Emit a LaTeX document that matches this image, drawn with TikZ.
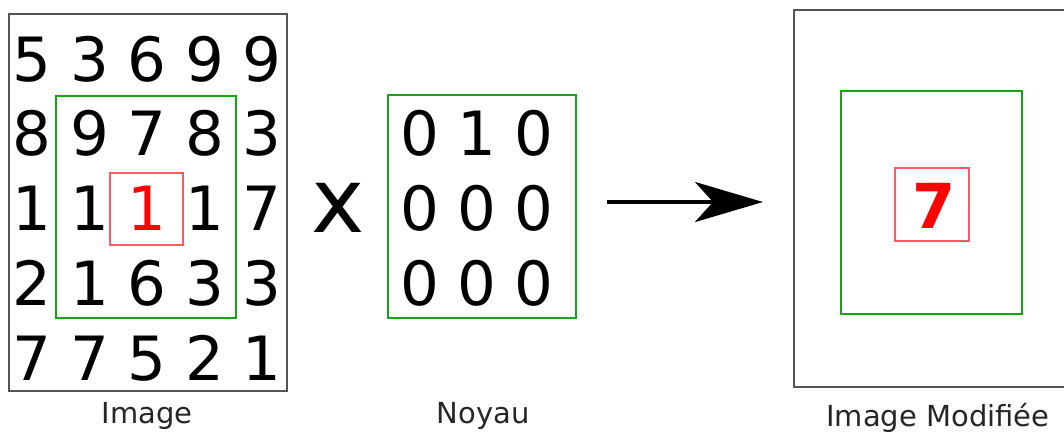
\documentclass[tikz,border=0pt]{standalone}
\usepackage{fontspec}
\setmainfont{DejaVu Sans}
\usetikzlibrary{arrows.meta}
\definecolor{boxgray}{RGB}{85,85,85}
\definecolor{kgreen}{RGB}{20,165,20}
\definecolor{kred}{RGB}{255,0,0}
\definecolor{lred}{RGB}{255,90,100}
\tikzset{
  frame/.style={draw=boxgray, line width=2.4pt},
  gbox/.style={draw=kgreen, line width=2.8pt},
  rbox/.style={draw=lred, line width=1.2pt},
  dig/.style={inner sep=0pt, anchor=base, font=\fontsize{61}{61}\selectfont},
  lab/.style={inner sep=0pt, anchor=base, font=\fontsize{29}{29}\selectfont, text=black!85},
  arr/.style={line width=4pt, -{Stealth[length=68pt,width=40pt,inset=18pt]}}
}
\begin{document}
\begin{tikzpicture}[x=1pt,y=-1pt]
\useasboundingbox (0,0) rectangle (1064,432);
\clip (0,0) rectangle (1064,432);
% left image
\draw[frame] (9,14) rectangle (287,391);
\draw[gbox] (56,96) rectangle (236,318);
\draw[rbox] (110,173) rectangle (183,245);
\node[dig] (i11) at (32,81) {5};
\node[dig] (i12) at (89.5,81) {3};
\node[dig] (i13) at (147,81) {6};
\node[dig] (i14) at (204.5,81) {9};
\node[dig] (i15) at (262,81) {9};
\node[dig] (i21) at (32,155) {8};
\node[dig] (i22) at (89.5,155) {9};
\node[dig] (i23) at (147,155) {7};
\node[dig] (i24) at (204.5,155) {8};
\node[dig] (i25) at (262,155) {3};
\node[dig] (i31) at (32,230) {1};
\node[dig] (i32) at (89.5,230) {1};
\node[dig, text=kred] (i33) at (147,230) {1};
\node[dig] (i34) at (204.5,230) {1};
\node[dig] (i35) at (262,230) {7};
\node[dig] (i41) at (32,305) {2};
\node[dig] (i42) at (89.5,305) {1};
\node[dig] (i43) at (147,305) {6};
\node[dig] (i44) at (204.5,305) {3};
\node[dig] (i45) at (262,305) {3};
\node[dig] (i51) at (32,380) {7};
\node[dig] (i52) at (89.5,380) {7};
\node[dig] (i53) at (147,380) {5};
\node[dig] (i54) at (204.5,380) {2};
\node[dig] (i55) at (262,380) {1};
\node[lab] (limg) at (147,423) {Image};
% times sign
\node[inner sep=0pt, anchor=base, font=\fontsize{90}{90}\selectfont] (times) at (338,232) {x};
% kernel
\draw[gbox] (388,95) rectangle (576,318);
\node[dig] (k11) at (420,155) {0};
\node[dig] (k12) at (477,155) {1};
\node[dig] (k13) at (534,155) {0};
\node[dig] (k21) at (420,230) {0};
\node[dig] (k22) at (477,230) {0};
\node[dig] (k23) at (534,230) {0};
\node[dig] (k31) at (420,305) {0};
\node[dig] (k32) at (477,305) {0};
\node[dig] (k33) at (534,305) {0};
\node[lab] (lnoy) at (483,423) {Noyau};
% arrow
\coordinate (a0) at (607,202);
\coordinate (a1) at (763,202);
\draw[arr] (a0) -- (a1);
% result
\draw[frame] (794,10) rectangle (1080,387);
\draw[gbox] (841,91) rectangle (1022,314);
\draw[rbox] (895,168) rectangle (969,241);
\node[inner sep=0pt, anchor=base, text=kred, font=\bfseries\fontsize{62}{62}\selectfont] (res) at (934,228) {7};
\node[lab] (lmod) at (938,426) {Image Modifiée};
\end{tikzpicture}
\end{document}
